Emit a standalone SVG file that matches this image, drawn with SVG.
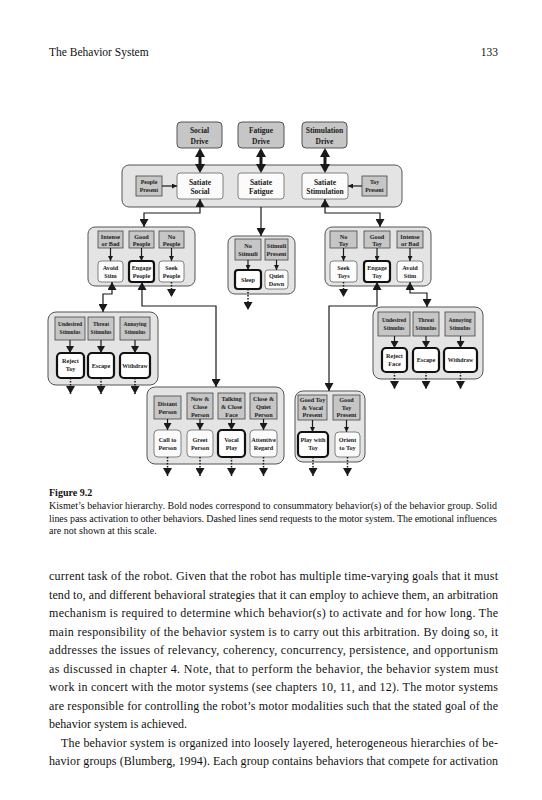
<svg xmlns="http://www.w3.org/2000/svg" width="542" height="800" viewBox="0 0 542 800">
<style>
.bg{fill:#ffffff}
.cont{fill:#e4e4e4;stroke:#555;stroke-width:1}
.drive{fill:#c6c6c6;stroke:#444;stroke-width:0.9}
.rel{fill:#c6c6c6;stroke:#444;stroke-width:0.8}
.beh{fill:#fbfbfb;stroke:#666;stroke-width:0.8}
.bold{fill:#ffffff;stroke:#111;stroke-width:2.2}
.n{font-family:"Liberation Serif","DejaVu Serif",serif;font-weight:bold;text-anchor:middle;fill:#1a1a1a}
.s75{font-size:7.5px}
.s62{font-size:6.2px}
.s58{font-size:5.8px}
.s55{font-size:5.5px}
.c{stroke:#1a1a1a;stroke-width:1.2;fill:none}
.dbl{stroke:#1a1a1a;stroke-width:3;fill:none}
.dash{stroke:#1a1a1a;stroke-width:1.5;stroke-dasharray:1.5 1.5;fill:none}
.page{font-family:"Liberation Serif","Times New Roman",serif;fill:#111}
</style>
<defs>
<marker id="big" viewBox="0 0 8 9" refX="8" refY="4.5" markerWidth="8" markerHeight="9" markerUnits="userSpaceOnUse" orient="auto-start-reverse"><path d="M0,0 L8,4.5 L0,9 z" fill="#1a1a1a"/></marker>
<marker id="dbl" viewBox="0 0 9 10" refX="6" refY="5" markerWidth="9" markerHeight="10" markerUnits="userSpaceOnUse" orient="auto-start-reverse"><path d="M0,0 L9,5 L0,10 z" fill="#1a1a1a"/></marker>
<marker id="med" viewBox="0 0 7 8" refX="7" refY="4" markerWidth="7" markerHeight="8" markerUnits="userSpaceOnUse" orient="auto"><path d="M0,0 L7,4 L0,8 z" fill="#1a1a1a"/></marker>
<marker id="sm" viewBox="0 0 5 5" refX="5" refY="2.5" markerWidth="5" markerHeight="5" markerUnits="userSpaceOnUse" orient="auto"><path d="M0,0 L5,2.5 L0,5 z" fill="#1a1a1a"/></marker>
</defs>
<rect class="bg" x="0" y="0" width="542" height="800"/>

<!-- page header -->
<text class="page" x="49" y="56" font-size="11.5">The Behavior System</text>
<text class="page" x="498" y="56" font-size="11.5" text-anchor="end">133</text>

<!-- drives -->
<g id="social-drive"><rect class="drive" x="177" y="122" width="45" height="26" rx="4"/><text class="n s75" x="199.5" y="132.7">Social</text><text class="n s75" x="199.5" y="143.7">Drive</text></g>
<g id="fatigue-drive"><rect class="drive" x="238" y="122" width="46" height="26" rx="4"/><text class="n s75" x="261" y="132.7">Fatigue</text><text class="n s75" x="261" y="143.7">Drive</text></g>
<g id="stimulation-drive"><rect class="drive" x="302" y="122" width="45" height="26" rx="4"/><text class="n s75" x="324.5" y="132.7">Stimulation</text><text class="n s75" x="324.5" y="143.7">Drive</text></g>

<!-- top level group -->
<g id="top-group">
<rect class="cont" x="122" y="165" width="280" height="42" rx="7"/>
<g id="people-present"><rect class="rel" x="136" y="176" width="26" height="20"/><text class="n s58" x="149" y="184.3">People</text><text class="n s58" x="149" y="192">Present</text></g>
<g id="satiate-social"><rect class="beh" x="177" y="173" width="46" height="26" rx="3"/><text class="n s75" x="200" y="184.7">Satiate</text><text class="n s75" x="200" y="194">Social</text></g>
<g id="satiate-fatigue"><rect class="beh" x="238" y="173" width="46" height="26" rx="3"/><text class="n s75" x="261" y="184.7">Satiate</text><text class="n s75" x="261" y="194">Fatigue</text></g>
<g id="satiate-stimulation"><rect class="beh" x="302" y="173" width="46" height="26" rx="3"/><text class="n s75" x="325" y="184.7">Satiate</text><text class="n s75" x="325" y="194">Stimulation</text></g>
<g id="toy-present"><rect class="rel" x="362" y="176" width="25" height="20"/><text class="n s58" x="374.5" y="184.3">Toy</text><text class="n s58" x="374.5" y="192">Present</text></g>
</g>

<!-- social group -->
<g id="social-group">
<rect class="cont" x="88" y="227" width="107" height="59" rx="7"/>
<g id="intense-bad-1"><rect class="rel" x="98" y="231" width="25" height="17"/><text class="n s62" x="110.5" y="238.7">Intense</text><text class="n s62" x="110.5" y="245.5">or Bad</text></g>
<g id="good-people"><rect class="rel" x="129" y="231" width="25" height="17"/><text class="n s62" x="141.5" y="238.7">Good</text><text class="n s62" x="141.5" y="245.5">People</text></g>
<g id="no-people"><rect class="rel" x="159" y="231" width="25" height="17"/><text class="n s62" x="171.5" y="238.7">No</text><text class="n s62" x="171.5" y="245.5">People</text></g>
<g id="avoid-stim-1"><rect class="beh" x="98" y="261" width="25" height="21" rx="3"/><text class="n s62" x="110.5" y="269.7">Avoid</text><text class="n s62" x="110.5" y="277.7">Stim</text></g>
<g id="engage-people"><rect class="bold" x="129" y="261" width="25" height="21" rx="3"/><text class="n s62" x="141.5" y="269.7">Engage</text><text class="n s62" x="141.5" y="277.7">People</text></g>
<g id="seek-people"><rect class="beh" x="159" y="261" width="25" height="21" rx="3"/><text class="n s62" x="171.5" y="269.7">Seek</text><text class="n s62" x="171.5" y="277.7">People</text></g>
</g>

<!-- fatigue group -->
<g id="fatigue-group">
<rect class="cont" x="228" y="236" width="67" height="58" rx="7"/>
<g id="no-stimuli"><rect class="rel" x="235" y="239" width="26" height="21"/><text class="n s62" x="248" y="247.5">No</text><text class="n s62" x="248" y="255.5">Stimuli</text></g>
<g id="stimuli-present"><rect class="rel" x="265" y="239" width="23" height="21"/><text class="n s62" x="276.5" y="247.5">Stimuli</text><text class="n s62" x="276.5" y="255.5">Present</text></g>
<g id="sleep"><rect class="bold" x="235" y="270" width="26" height="19" rx="3"/><text class="n s62" x="248" y="281.7">Sleep</text></g>
<g id="quiet-down"><rect class="beh" x="265" y="270" width="23" height="19" rx="3"/><text class="n s62" x="276.5" y="277.7">Quiet</text><text class="n s62" x="276.5" y="285.7">Down</text></g>
</g>

<!-- toy group -->
<g id="toy-group">
<rect class="cont" x="325" y="227" width="106" height="59" rx="7"/>
<g id="no-toy"><rect class="rel" x="330" y="231" width="27" height="17"/><text class="n s62" x="343.5" y="238.7">No</text><text class="n s62" x="343.5" y="245.5">Toy</text></g>
<g id="good-toy"><rect class="rel" x="364" y="231" width="26" height="17"/><text class="n s62" x="377" y="238.7">Good</text><text class="n s62" x="377" y="245.5">Toy</text></g>
<g id="intense-bad-2"><rect class="rel" x="397" y="231" width="26" height="17"/><text class="n s62" x="410" y="238.7">Intense</text><text class="n s62" x="410" y="245.5">or Bad</text></g>
<g id="seek-toys"><rect class="beh" x="330" y="261" width="27" height="21" rx="3"/><text class="n s62" x="343.5" y="269.7">Seek</text><text class="n s62" x="343.5" y="277.7">Toys</text></g>
<g id="engage-toy"><rect class="bold" x="364" y="261" width="26" height="21" rx="3"/><text class="n s62" x="377" y="269.7">Engage</text><text class="n s62" x="377" y="277.7">Toy</text></g>
<g id="avoid-stim-2"><rect class="beh" x="397" y="261" width="26" height="21" rx="3"/><text class="n s62" x="410" y="269.7">Avoid</text><text class="n s62" x="410" y="277.7">Stim</text></g>
</g>

<!-- social fear group -->
<g id="fear-group-1">
<rect class="cont" x="48" y="312" width="110" height="73" rx="8"/>
<g id="undesired-1"><rect class="rel" x="55" y="317" width="30" height="23"/><text class="n s55" x="70" y="326">Undesired</text><text class="n s55" x="70" y="334">Stimulus</text></g>
<g id="threat-1"><rect class="rel" x="88" y="317" width="26" height="23"/><text class="n s55" x="101" y="326">Threat</text><text class="n s55" x="101" y="334">Stimulus</text></g>
<g id="annoying-1"><rect class="rel" x="120" y="317" width="30" height="23"/><text class="n s55" x="135" y="326">Annoying</text><text class="n s55" x="135" y="334">Stimulus</text></g>
<g id="reject-toy"><rect class="bold" x="57" y="353" width="27" height="25" rx="4"/><text class="n s62" x="70.5" y="363">Reject</text><text class="n s62" x="70.5" y="371">Toy</text></g>
<g id="escape-1"><rect class="bold" x="88" y="353" width="26" height="25" rx="4"/><text class="n s62" x="101" y="367.5">Escape</text></g>
<g id="withdraw-1"><rect class="bold" x="120" y="353" width="30" height="25" rx="4"/><text class="n s58" x="135" y="367.5">Withdraw</text></g>
</g>

<!-- toy fear group -->
<g id="fear-group-2">
<rect class="cont" x="373" y="307" width="110" height="72" rx="8"/>
<g id="undesired-2"><rect class="rel" x="378" y="312" width="32" height="24"/><text class="n s55" x="394" y="321.5">Undesired</text><text class="n s55" x="394" y="329.5">Stimulus</text></g>
<g id="threat-2"><rect class="rel" x="413" y="312" width="26" height="24"/><text class="n s55" x="426" y="321.5">Threat</text><text class="n s55" x="426" y="329.5">Stimulus</text></g>
<g id="annoying-2"><rect class="rel" x="445" y="312" width="30" height="24"/><text class="n s55" x="460" y="321.5">Annoying</text><text class="n s55" x="460" y="329.5">Stimulus</text></g>
<g id="reject-face"><rect class="bold" x="382" y="348" width="25" height="24" rx="4"/><text class="n s62" x="394.5" y="357.7">Reject</text><text class="n s62" x="394.5" y="365.7">Face</text></g>
<g id="escape-2"><rect class="bold" x="413" y="348" width="26" height="24" rx="4"/><text class="n s62" x="426" y="362">Escape</text></g>
<g id="withdraw-2"><rect class="bold" x="444" y="348" width="33" height="24" rx="4"/><text class="n s58" x="460.5" y="362">Withdraw</text></g>
</g>

<!-- bottom social group -->
<g id="person-group">
<rect class="cont" x="147" y="387" width="137" height="77" rx="8"/>
<g id="distant-person"><rect class="rel" x="154" y="396" width="27" height="23"/><text class="n s62" x="167.5" y="405.5">Distant</text><text class="n s62" x="167.5" y="413.5">Person</text></g>
<g id="now-close-person"><rect class="rel" x="187" y="393" width="26" height="26"/><text class="n s62" x="200" y="401">Now &amp;</text><text class="n s62" x="200" y="409">Close</text><text class="n s62" x="200" y="417">Person</text></g>
<g id="talking-close-face"><rect class="rel" x="218" y="393" width="27" height="26"/><text class="n s62" x="231.5" y="401">Talking</text><text class="n s62" x="231.5" y="409">&amp; Close</text><text class="n s62" x="231.5" y="417">Face</text></g>
<g id="close-quiet-person"><rect class="rel" x="250" y="393" width="27" height="26"/><text class="n s62" x="263.5" y="401">Close &amp;</text><text class="n s62" x="263.5" y="409">Quiet</text><text class="n s62" x="263.5" y="417">Person</text></g>
<g id="call-to-person"><rect class="beh" x="154" y="430" width="27" height="27" rx="4"/><text class="n s62" x="167.5" y="441.5">Call to</text><text class="n s62" x="167.5" y="450">Person</text></g>
<g id="greet-person"><rect class="beh" x="187" y="430" width="26" height="27" rx="4"/><text class="n s62" x="200" y="441.5">Greet</text><text class="n s62" x="200" y="450">Person</text></g>
<g id="vocal-play"><rect class="bold" x="218" y="430" width="27" height="27" rx="4"/><text class="n s62" x="231.5" y="441.5">Vocal</text><text class="n s62" x="231.5" y="450">Play</text></g>
<g id="attentive-regard"><rect class="beh" x="250" y="430" width="27" height="27" rx="4"/><text class="n s62" x="263.5" y="441.5">Attentive</text><text class="n s62" x="263.5" y="450">Regard</text></g>
</g>

<!-- bottom toy group -->
<g id="play-toy-group">
<rect class="cont" x="295" y="391" width="70" height="71" rx="8"/>
<g id="good-toy-vocal"><rect class="rel" x="298" y="395" width="29" height="25"/><text class="n s62" x="312.5" y="401.5">Good Toy</text><text class="n s62" x="312.5" y="409.5">&amp; Vocal</text><text class="n s62" x="312.5" y="417.3">Present</text></g>
<g id="good-toy-present"><rect class="rel" x="333" y="395" width="27" height="25"/><text class="n s62" x="346.5" y="401.5">Good</text><text class="n s62" x="346.5" y="409.5">Toy</text><text class="n s62" x="346.5" y="417.3">Present</text></g>
<g id="play-with-toy"><rect class="bold" x="298" y="432" width="30" height="25" rx="4"/><text class="n s62" x="313" y="442.3">Play with</text><text class="n s62" x="313" y="450.3">Toy</text></g>
<g id="orient-to-toy"><rect class="beh" x="335" y="432" width="25" height="25" rx="4"/><text class="n s62" x="347.5" y="442.3">Orient</text><text class="n s62" x="347.5" y="450.3">to Toy</text></g>
</g>

<!-- connectors -->
<g id="connectors">
<path class="dbl" d="M200,151 V170" marker-start="url(#dbl)" marker-end="url(#dbl)"/>
<path class="dbl" d="M261,151 V170" marker-start="url(#dbl)" marker-end="url(#dbl)"/>
<path class="dbl" d="M325,151 V170" marker-start="url(#dbl)" marker-end="url(#dbl)"/>
<path class="c" d="M162,186 H177" marker-end="url(#sm)"/>
<path class="c" d="M362,186 H348" marker-end="url(#sm)"/>
<path class="c" d="M144,227 V213 H200 V199" marker-start="url(#big)" marker-end="url(#big)"/>
<path class="c" d="M261,207 V236" marker-end="url(#big)"/>
<path class="c" d="M380,227 V213 H325 V199" marker-start="url(#big)" marker-end="url(#big)"/>
<path class="c" d="M110.5,248 V261" marker-end="url(#sm)"/>
<path class="c" d="M141.5,248 V261" marker-end="url(#sm)"/>
<path class="c" d="M171.5,248 V261" marker-end="url(#sm)"/>
<path class="c" d="M103,312 V294 H112 V282" marker-start="url(#big)" marker-end="url(#big)"/>
<path class="c" d="M216,387 V306 H142 V282" marker-start="url(#big)" marker-end="url(#big)"/>
<path class="dash" d="M171.5,282 V297" marker-end="url(#big)"/>
<path class="c" d="M248,260 V270" marker-end="url(#sm)"/>
<path class="c" d="M276.5,260 V270" marker-end="url(#sm)"/>
<path class="dash" d="M248,289 V310" marker-end="url(#big)"/>
<path class="c" d="M343.5,248 V261" marker-end="url(#sm)"/>
<path class="c" d="M377,248 V261" marker-end="url(#sm)"/>
<path class="c" d="M410,248 V261" marker-end="url(#sm)"/>
<path class="dash" d="M343.5,282 V297" marker-end="url(#big)"/>
<path class="c" d="M329,391 V306 H377 V282" marker-start="url(#big)" marker-end="url(#big)"/>
<path class="c" d="M427,307 V293 H410 V282" marker-start="url(#big)" marker-end="url(#big)"/>
<path class="c" d="M70,340 V353" marker-end="url(#med)"/>
<path class="c" d="M101,340 V353" marker-end="url(#med)"/>
<path class="c" d="M135,340 V353" marker-end="url(#med)"/>
<path class="dash" d="M70.5,378 V394" marker-end="url(#big)"/>
<path class="dash" d="M101,378 V394" marker-end="url(#big)"/>
<path class="dash" d="M135,378 V394" marker-end="url(#big)"/>
<path class="c" d="M394.5,336 V348" marker-end="url(#med)"/>
<path class="c" d="M426,336 V348" marker-end="url(#med)"/>
<path class="c" d="M460.5,336 V348" marker-end="url(#med)"/>
<path class="dash" d="M394.5,372 V389" marker-end="url(#big)"/>
<path class="dash" d="M426,372 V389" marker-end="url(#big)"/>
<path class="dash" d="M460.5,372 V389" marker-end="url(#big)"/>
<path class="c" d="M167.5,419 V430" marker-end="url(#med)"/>
<path class="c" d="M200,419 V430" marker-end="url(#med)"/>
<path class="c" d="M231.5,419 V430" marker-end="url(#med)"/>
<path class="c" d="M263.5,419 V430" marker-end="url(#med)"/>
<path class="dash" d="M167.5,457 V476" marker-end="url(#big)"/>
<path class="dash" d="M200,457 V476" marker-end="url(#big)"/>
<path class="dash" d="M231.5,457 V476" marker-end="url(#big)"/>
<path class="dash" d="M263.5,457 V476" marker-end="url(#big)"/>
<path class="c" d="M312.5,420 V432" marker-end="url(#sm)"/>
<path class="c" d="M346.5,420 V432" marker-end="url(#sm)"/>
<path class="dash" d="M313,457 V476" marker-end="url(#big)"/>
<path class="dash" d="M347.5,457 V476" marker-end="url(#big)"/>
</g>

<!-- caption -->
<g id="caption" class="page" font-size="10">
<text x="49" y="496" font-weight="bold">Figure 9.2</text>
<text x="49" y="509" textLength="448" lengthAdjust="spacing">Kismet’s behavior hierarchy. Bold nodes correspond to consummatory behavior(s) of the behavior group. Solid</text>
<text x="49" y="521.5" textLength="448" lengthAdjust="spacing">lines pass activation to other behaviors. Dashed lines send requests to the motor system. The emotional influences</text>
<text x="49" y="534">are not shown at this scale.</text>
</g>

<!-- body text -->
<g id="body" class="page" font-size="12">
<text x="49" y="580" textLength="449" lengthAdjust="spacing">current task of the robot. Given that the robot has multiple time-varying goals that it must</text>
<text x="49" y="598.5" textLength="449" lengthAdjust="spacing">tend to, and different behavioral strategies that it can employ to achieve them, an arbitration</text>
<text x="49" y="617" textLength="449" lengthAdjust="spacing">mechanism is required to determine which behavior(s) to activate and for how long. The</text>
<text x="49" y="635.5" textLength="449" lengthAdjust="spacing">main responsibility of the behavior system is to carry out this arbitration. By doing so, it</text>
<text x="49" y="654" textLength="449" lengthAdjust="spacing">addresses the issues of relevancy, coherency, concurrency, persistence, and opportunism</text>
<text x="49" y="672.5" textLength="449" lengthAdjust="spacing">as discussed in chapter 4. Note, that to perform the behavior, the behavior system must</text>
<text x="49" y="691" textLength="449" lengthAdjust="spacing">work in concert with the motor systems (see chapters 10, 11, and 12). The motor systems</text>
<text x="49" y="709.5" textLength="449" lengthAdjust="spacing">are responsible for controlling the robot’s motor modalities such that the stated goal of the</text>
<text x="49" y="728">behavior system is achieved.</text>
<text x="61" y="746.5" textLength="437" lengthAdjust="spacing">The behavior system is organized into loosely layered, heterogeneous hierarchies of be-</text>
<text x="49" y="765" textLength="449" lengthAdjust="spacing">havior groups (Blumberg, 1994). Each group contains behaviors that compete for activation</text>
</g>
</svg>
